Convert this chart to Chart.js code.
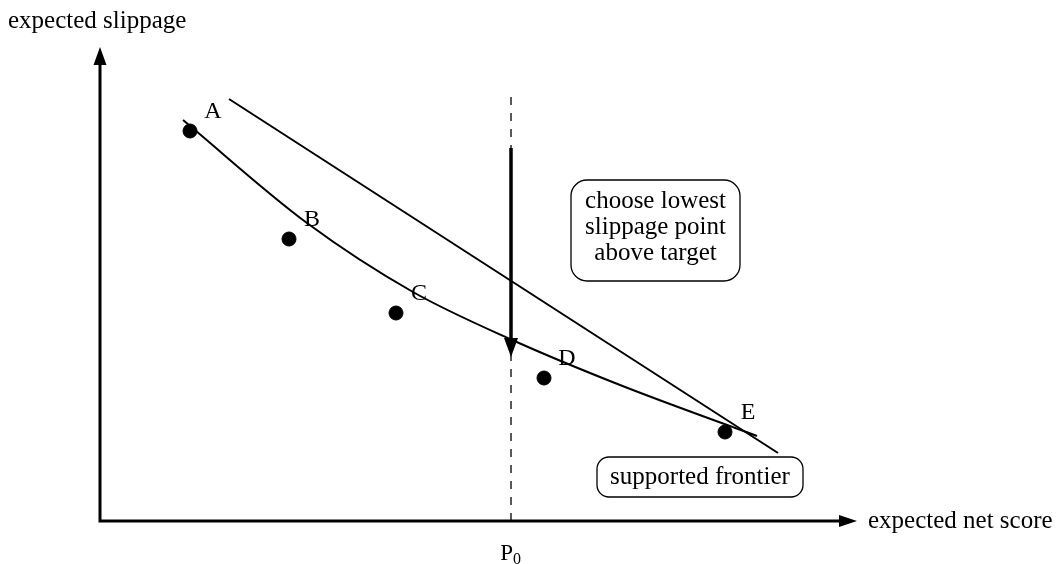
<!DOCTYPE html>
<html><head><meta charset="utf-8">
<script src="https://cdn.jsdelivr.net/npm/chart.js@4"></script>
<style>html,body{margin:0;padding:0;background:#fff;overflow:hidden}</style>
</head><body>
<canvas id="c" width="1057" height="564"></canvas>
<script>
// ---- data (abstract units, origin at the axes' crossing) ----
const pointLabels = ['A', 'B', 'C', 'D', 'E'];
const pointX = [90, 189, 296, 444, 625];
const pointY = [390, 282, 208, 143, 89];
const frontierX = [83, 207, 313, 410, 520, 657];
const frontierY = [401, 298, 229, 182, 136, 85];
const tangentX = [129, 678];
const tangentY = [422, 68];
const targetP0 = 411;
const targetTop = 424;
const arrowFromY = 373;
const arrowToY = 164;
const xAxisMax = 757;
const yAxisMax = 474;
const xAxisTitle = 'expected net score';
const yAxisTitle = 'expected slippage';
const targetLabel = 'P';
const targetSub = '0';
const noteLines = ['choose lowest', 'slippage point', 'above target'];
const frontierNote = 'supported frontier';

const FONT = '"Liberation Serif", "DejaVu Serif", serif';
const zip = (xs, ys) => xs.map((x, i) => ({ x, y: ys[i] }));

const overlay = {
  id: 'overlay',
  afterDatasetsDraw(chart) {
    const ctx = chart.ctx;
    const sx = chart.scales.x, sy = chart.scales.y;
    const X = v => sx.getPixelForValue(v), Y = v => sy.getPixelForValue(v);
    ctx.save();
    ctx.strokeStyle = '#000'; ctx.fillStyle = '#000';
    // axes
    ctx.lineWidth = 3;
    ctx.beginPath();
    ctx.moveTo(X(0), Y(yAxisMax) + 15); ctx.lineTo(X(0), Y(0));
    ctx.lineTo(X(xAxisMax) - 15, Y(0));
    ctx.stroke();
    const head = (tx, ty, dx, dy, len, half) => {
      const px = -dy, py = dx;
      ctx.beginPath();
      ctx.moveTo(tx, ty);
      ctx.lineTo(tx - dx * len + px * half, ty - dy * len + py * half);
      ctx.lineTo(tx - dx * len - px * half, ty - dy * len - py * half);
      ctx.closePath(); ctx.fill();
    };
    head(X(0), Y(yAxisMax), 0, -1, 18, 6.5);
    head(X(xAxisMax), Y(0), 1, 0, 18, 6);
    head(X(targetP0), Y(arrowToY), 0, 1, 19, 7);
    // point labels
    ctx.font = '24px ' + FONT;
    ctx.textAlign = 'center'; ctx.textBaseline = 'alphabetic';
    pointLabels.forEach((t, i) => ctx.fillText(t, X(pointX[i]) + 23, Y(pointY[i]) - 13));
    // axis titles
    ctx.font = '25px ' + FONT;
    ctx.textAlign = 'left';
    ctx.fillText(yAxisTitle, X(0) - 92, Y(yAxisMax) - 19);
    ctx.fillText(xAxisTitle, X(xAxisMax) + 11, Y(0) + 7);
    // P0
    ctx.font = '23px ' + FONT;
    ctx.textAlign = 'right';
    ctx.fillText(targetLabel, X(targetP0) + 2, Y(0) + 39);
    ctx.font = '16px ' + FONT;
    ctx.textAlign = 'left';
    ctx.fillText(targetSub, X(targetP0) + 2, Y(0) + 43);
    // note boxes
    ctx.lineWidth = 1.3;
    const box = (l, t, w, h, r) => {
      ctx.beginPath(); ctx.roundRect(l, t, w, h, r); ctx.stroke();
    };
    const bx = X(targetP0) + 60, by = Y(arrowFromY) + 32;
    box(bx, by, 169, 101, 16);
    ctx.font = '25px ' + FONT;
    ctx.textAlign = 'center';
    noteLines.forEach((t, i) => ctx.fillText(t, bx + 84.5, by + 28 + i * 26));
    const fx = X(tangentX[1]) - 181, fy = Y(tangentY[1]) + 4;
    box(fx, fy, 206, 40, 12);
    ctx.fillText(frontierNote, fx + 103, fy + 27);
    ctx.restore();
  }
};

new Chart(document.getElementById('c'), {
  type: 'scatter',
  data: {
    datasets: [
      { data: zip(pointX, pointY), pointRadius: 7, pointHoverRadius: 7,
        backgroundColor: '#000', borderColor: '#000', showLine: false },
      { data: zip(frontierX, frontierY), showLine: true, pointRadius: 0,
        borderColor: '#000', borderWidth: 2, cubicInterpolationMode: 'monotone' },
      { data: zip(tangentX, tangentY), showLine: true, pointRadius: 0,
        borderColor: '#000', borderWidth: 2 },
      { data: [{ x: targetP0, y: 0 }, { x: targetP0, y: targetTop }], showLine: true,
        pointRadius: 0, borderColor: '#000', borderWidth: 1.3, borderDash: [8, 8] },
      { data: [{ x: targetP0, y: arrowFromY }, { x: targetP0, y: arrowToY + 15 }], showLine: true,
        pointRadius: 0, borderColor: '#000', borderWidth: 3.5 }
    ]
  },
  options: {
    responsive: false, animation: false,
    layout: { padding: 0, autoPadding: false },
    plugins: { legend: { display: false }, tooltip: { enabled: false } },
    scales: {
      x: { type: 'linear', min: -100, max: 957, display: false },
      y: { type: 'linear', min: -43, max: 521, display: false }
    }
  },
  plugins: [overlay]
});
</script>
</body></html>
